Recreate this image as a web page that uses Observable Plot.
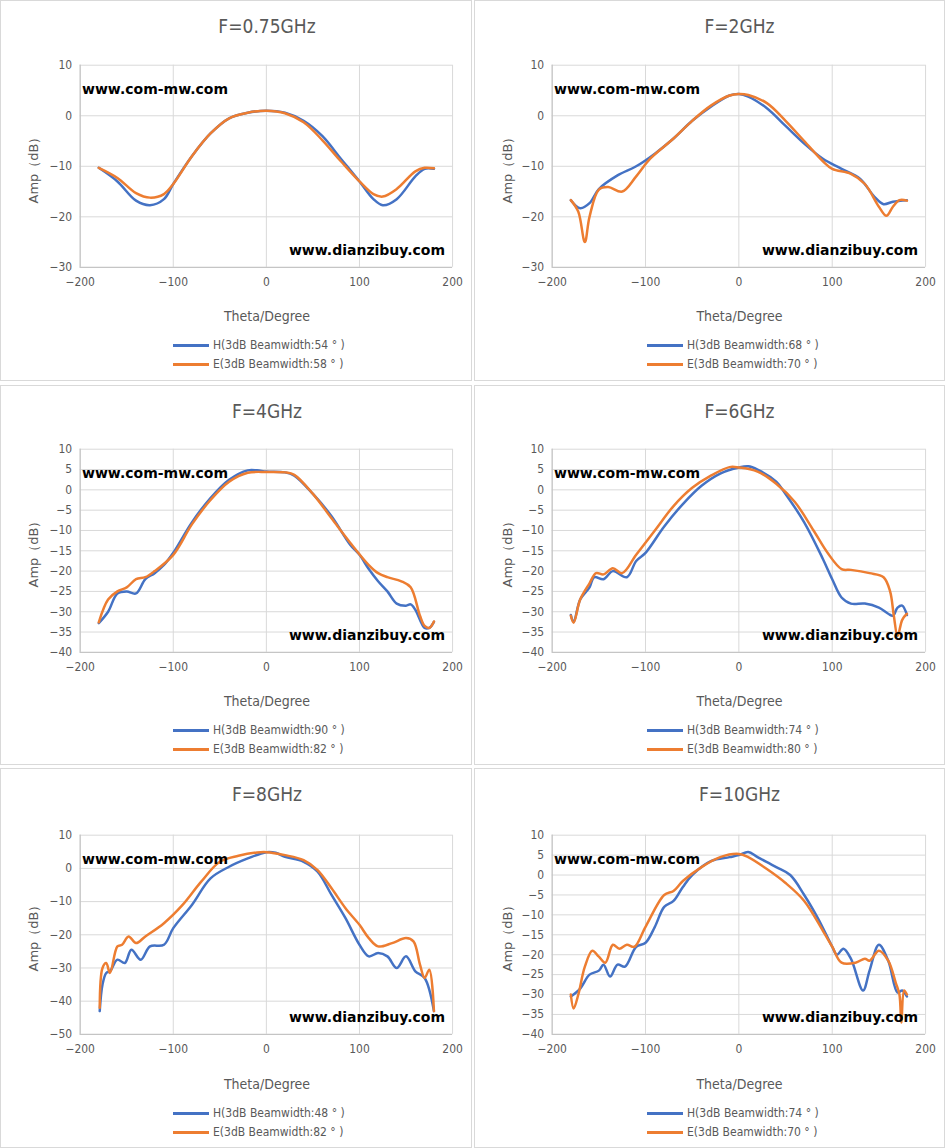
<!DOCTYPE html>
<html><head><meta charset="utf-8">
<script src="https://cdn.jsdelivr.net/npm/d3@7"></script>
<script src="https://cdn.jsdelivr.net/npm/@observablehq/plot@0.6"></script>
<style>
body{margin:0;background:#fff;font-family:"DejaVu Sans Condensed","Liberation Sans",sans-serif;}
.panel{position:absolute;border:1px solid #d9d9d9;box-sizing:border-box;background:#fff;}
.panel svg{position:absolute;left:0;top:0;}
.t{position:absolute;white-space:nowrap;color:#595959;}
.wm{position:absolute;font-family:"DejaVu Sans",sans-serif;font-weight:bold;font-size:14px;color:#000;white-space:nowrap;}
</style></head><body>
<div id="root" style="position:relative;width:946px;height:1148px;"></div>
<script>
const titles=["F=0.75GHz","F=2GHz","F=4GHz","F=6GHz","F=8GHz","F=10GHz"];
const legH=["H(3dB Beamwidth:54 ° )","H(3dB Beamwidth:68 ° )","H(3dB Beamwidth:90 ° )","H(3dB Beamwidth:74 ° )","H(3dB Beamwidth:48 ° )","H(3dB Beamwidth:74 ° )"];
const legE=["E(3dB Beamwidth:58 ° )","E(3dB Beamwidth:70 ° )","E(3dB Beamwidth:82 ° )","E(3dB Beamwidth:80 ° )","E(3dB Beamwidth:82 ° )","E(3dB Beamwidth:70 ° )"];
const yDomains=[[-30,10],[-30,10],[-40,10],[-40,10],[-50,10],[-40,10]];
const yTicks=[d3.range(-30,11,10),d3.range(-30,11,10),d3.range(-40,11,5),d3.range(-40,11,5),d3.range(-50,11,10),d3.range(-40,11,5)];
const xTicks=[-200,-100,0,100,200];
// [theta, dB] pairs
const H1=[[-180,-10.3],[-160,-13],[-140,-16.8],[-125,-17.7],[-110,-16.5],[-100,-13.5],[-80,-8],[-60,-3.5],[-40,-0.5],[-20,0.6],[0,1],[20,0.6],[40,-1],[60,-4],[80,-8.5],[100,-13],[115,-16.5],[125,-17.7],[140,-16.5],[160,-12],[170,-10.5],[180,-10.5]];
const E1=[[-180,-10.3],[-160,-12.3],[-140,-15.3],[-125,-16.2],[-110,-15.5],[-100,-13.5],[-80,-8],[-60,-3.5],[-40,-0.5],[-20,0.6],[0,1],[20,0.5],[40,-1.3],[60,-4.8],[80,-9],[100,-13],[115,-15.5],[125,-16],[140,-14.5],[160,-11],[170,-10.3],[180,-10.4]];
const H2=[[-180,-16.7],[-170,-18.3],[-160,-17.3],[-150,-14.5],[-130,-11.8],[-110,-10],[-90,-7.5],[-70,-4.5],[-50,-1],[-30,1.8],[-10,4],[0,4.3],[10,3.8],[30,1.5],[50,-2],[70,-5.5],[90,-8.5],[110,-10.5],[130,-12.5],[145,-16],[155,-17.5],[165,-17],[180,-16.7]];
const E2=[[-180,-16.7],[-172,-19],[-165,-25],[-160,-20],[-150,-14.6],[-140,-14.1],[-125,-15],[-110,-12],[-95,-8.5],[-70,-4.5],[-50,-1],[-30,2],[-10,4],[0,4.3],[10,4.1],[30,2.5],[50,-1],[70,-5],[90,-9],[100,-10.5],[120,-11.5],[135,-13.5],[150,-18],[158,-19.8],[165,-18],[172,-16.7],[180,-16.8]];
const H3=[[-180,-32.8],[-170,-30],[-160,-25.5],[-150,-25],[-140,-25.5],[-130,-22],[-120,-20.5],[-110,-18.5],[-100,-15.5],[-80,-8],[-60,-2],[-40,2.5],[-20,4.8],[-10,4.8],[0,4.5],[20,4.3],[30,3.5],[50,-1],[70,-6.5],[90,-13.5],[100,-16],[110,-19.5],[120,-22.5],[130,-25],[140,-28],[150,-28.5],[155,-28.2],[160,-29.5],[170,-34],[175,-34],[180,-32.5]];
const E3=[[-180,-32.6],[-170,-27],[-160,-25],[-150,-24],[-140,-22],[-130,-21.5],[-120,-20],[-100,-16],[-80,-8.5],[-60,-2.5],[-40,2],[-20,4.2],[0,4.4],[20,4.3],[30,3.7],[50,-1],[70,-7],[90,-13],[110,-18.5],[120,-20.5],[130,-21.5],[145,-22.5],[155,-24],[165,-31],[170,-33.5],[175,-34],[180,-32.4]];
const H4=[[-180,-30.8],[-177,-32.5],[-170,-27],[-160,-24],[-155,-21.5],[-145,-22],[-135,-20],[-120,-21.5],[-110,-17.5],[-100,-15.5],[-80,-9],[-60,-3.5],[-40,1],[-20,4],[0,5.5],[10,5.8],[20,5],[40,2],[50,-1],[70,-8],[90,-17],[100,-22],[110,-26.5],[120,-28],[135,-28],[150,-29],[160,-30.5],[165,-31],[170,-29],[175,-28.5],[180,-30.8]];
const E4=[[-180,-31],[-177,-32.7],[-170,-27],[-160,-23],[-153,-20.5],[-145,-20.8],[-135,-19.3],[-125,-20.5],[-110,-16],[-90,-10],[-70,-4],[-50,0.5],[-30,3.5],[-10,5.6],[0,5.5],[20,4.5],[40,1.5],[60,-3],[80,-10],[95,-15.5],[110,-19.5],[120,-19.7],[140,-20.5],[155,-21.5],[162,-25],[166,-31],[170,-36],[175,-32],[180,-30.5]];
const H5=[[-179,-43],[-176,-35],[-172,-31.5],[-168,-31],[-160,-27.5],[-152,-28.5],[-145,-24.5],[-135,-27.5],[-125,-23.5],[-110,-23],[-100,-18],[-80,-11],[-60,-3],[-40,0.5],[-20,3],[0,4.9],[10,4.7],[20,3.5],[40,2],[55,-1],[70,-8],[85,-15],[100,-23],[110,-26.5],[120,-25.5],[130,-26.5],[140,-30],[150,-26.5],[160,-31],[170,-33],[180,-43]];
const E5=[[-179,-42],[-176,-30],[-172,-28.5],[-168,-31.5],[-160,-23.5],[-155,-23],[-148,-20.5],[-140,-22.5],[-130,-20.5],[-110,-16.5],[-90,-11],[-70,-4],[-50,2],[-30,3.8],[-10,4.8],[0,4.9],[20,4],[40,2.5],[55,-0.5],[70,-6],[85,-12],[100,-17],[110,-21],[120,-23.5],[135,-22.5],[150,-21],[158,-22],[165,-29],[170,-33],[175,-30.5],[180,-43]];
const H6=[[-180,-30.5],[-170,-28.5],[-160,-25],[-150,-24],[-145,-22.5],[-138,-25.5],[-130,-22.5],[-122,-23],[-110,-18],[-100,-17],[-90,-13],[-80,-8],[-70,-6.5],[-60,-3],[-50,0],[-30,3.5],[-10,4.5],[0,5],[10,5.8],[20,4.5],[40,2],[55,0],[70,-5],[85,-11],[100,-18],[105,-20],[112,-18.5],[120,-21],[133,-29],[140,-24],[150,-17.5],[160,-21.5],[170,-29.5],[175,-29],[180,-30.5]];
const E6=[[-180,-30],[-177,-33.5],[-172,-30],[-165,-23],[-157,-19],[-150,-20.5],[-143,-22],[-135,-17.5],[-128,-18.5],[-120,-17.5],[-112,-18],[-100,-13],[-80,-5],[-70,-4],[-60,-1.5],[-40,2],[-20,4.5],[0,5.3],[10,4.5],[30,1.5],[50,-2],[70,-6.5],[90,-14],[100,-18],[110,-22],[125,-22],[135,-21],[140,-21.5],[150,-19],[160,-21.5],[168,-27],[172,-30],[174,-37],[177,-29],[180,-30]];
const Hs=[H1,H2,H3,H4,H5,H6], Es=[E1,E2,E3,E4,E5,E6];
const BLUE="#4472C4", ORANGE="#ED7D31";
const panels=[[0,0,472,381,64,267],[474,0,471,381,64,267],[0,385,472,380,63,267],[474,385,471,380,63,267],[0,768,472,380,66,266],[474,768,471,380,66,266]];
const root=document.getElementById("root");
panels.forEach(([px,py,pw,ph,top,bot],i)=>{
  const d=document.createElement("div");d.className="panel";
  Object.assign(d.style,{left:px+"px",top:py+"px",width:pw+"px",height:ph+"px"});
  root.appendChild(d);
  const ml=i%2?77:79, mr=19;
  const svg=Plot.plot({width:pw,height:300,marginLeft:ml,marginRight:mr,marginTop:top,marginBottom:300-bot,
    style:{fontFamily:"DejaVu Sans Condensed, sans-serif",fontSize:"12px",color:"#595959",background:"transparent"},
    x:{domain:[-200,200],ticks:xTicks,label:null,tickSize:0,tickPadding:10},
    y:{domain:yDomains[i],ticks:yTicks[i],label:null,tickSize:0,tickPadding:10},
    marks:[
      Plot.gridX(xTicks,{stroke:"#d9d9d9",strokeOpacity:1}),
      Plot.gridY(yTicks[i],{stroke:"#d9d9d9",strokeOpacity:1}),
      Plot.ruleX([-200],{stroke:"#bfbfbf"}),
      Plot.ruleY([yDomains[i][0]],{stroke:"#bfbfbf"}),
      Plot.axisX({ticks:xTicks,tickSize:0,tickPadding:10,label:null}),
      Plot.axisY({ticks:yTicks[i],tickSize:0,tickPadding:8,label:null}),
      Plot.line(Hs[i],{x:d=>d[0],y:d=>d[1],stroke:BLUE,strokeWidth:2.5,curve:"catmull-rom"}),
      Plot.line(Es[i],{x:d=>d[0],y:d=>d[1],stroke:ORANGE,strokeWidth:2.5,curve:"catmull-rom"})
    ]});
  d.appendChild(svg);
  const cx=ml+(pw-ml-mr)/2;
  const add=(html,css,cls="t")=>{const e=document.createElement("div");e.className=cls;e.textContent=html;Object.assign(e.style,css);d.appendChild(e);return e;};
  add(titles[i],{left:cx+"px",top:"14px",transform:"translateX(-50%)",fontSize:"19px"});
  add("Theta/Degree",{left:cx+"px",top:"307px",transform:"translateX(-50%)",fontSize:"14px"});
  add("Amp（dB）",{left:"33px",top:((top+bot)/2)+"px",transform:"translate(-50%,-50%) rotate(-90deg)",fontSize:"13px",fontFamily:"DejaVu Sans, sans-serif"});
  add("www.com-mw.com",{left:(ml+2)+"px",top:(top+16)+"px"},"wm");
  add("www.dianzibuy.com",{right:"26px",top:(bot-26)+"px"},"wm");
  const lx=172;
  [[legH[i],BLUE,337],[legE[i],ORANGE,356]].forEach(([txt,c,y])=>{
    add("",{left:lx+"px",top:(y+6)+"px",width:"36px",height:"3px",background:c});
    add(txt,{left:(lx+40)+"px",top:y+"px",fontSize:"12px"});
  });
});
</script></body></html>
